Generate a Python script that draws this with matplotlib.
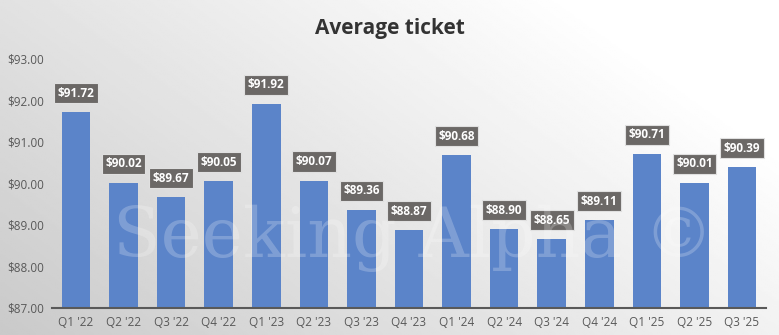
import numpy as np
import matplotlib.pyplot as plt

quarters = ["Q1 '22", "Q2 '22", "Q3 '22", "Q4 '22", "Q1 '23", "Q2 '23", "Q3 '23", "Q4 '23",
            "Q1 '24", "Q2 '24", "Q3 '24", "Q4 '24", "Q1 '25", "Q2 '25", "Q3 '25"]
avg_ticket = [91.72, 90.02, 89.67, 90.05, 91.92, 90.07, 89.36, 88.87,
              90.68, 88.90, 88.65, 89.11, 90.71, 90.01, 90.39]
yticks = [87, 88, 89, 90, 91, 92, 93]

plt.rcParams['font.family'] = ['Open Sans', 'DejaVu Sans']

fig = plt.figure(figsize=(7.79, 3.35), dpi=100)

# gradient background, darker grey bottom-left to white top-right
bg = fig.add_axes([0, 0, 1, 1], zorder=0)
gx, gy = np.meshgrid(np.linspace(0, 1, 400), np.linspace(0, 1, 200))
grad = 0.79 + 0.21 * np.clip(0.75 * gx + 0.45 * gy, 0, 1)
bg.imshow(grad, cmap='gray', vmin=0, vmax=1, origin='lower', aspect='auto', extent=[0, 1, 0, 1])
bg.axis('off')

ax = fig.add_axes([0.067, 0.081, 0.916, 0.743], zorder=1)
ax.patch.set_alpha(0)
x = np.arange(len(quarters))
ax.bar(x, avg_ticket, width=0.6, color='#5b84c9', zorder=2)
ax.set_xlim(-0.5, len(quarters) - 0.5)
ax.set_ylim(87, 93)
ax.set_yticks(yticks)
ax.set_yticklabels([f"${v:.2f}" for v in yticks], color='#595959', fontsize=8.5)
ax.set_xticks(x)
ax.set_xticklabels(quarters, color='#595959', fontsize=8.5)
ax.tick_params(length=0, pad=6)
for s in ['top', 'right', 'left']:
    ax.spines[s].set_visible(False)
ax.spines['bottom'].set_color('#595959')
ax.spines['bottom'].set_linewidth(1.5)

for xi, v in zip(x, avg_ticket):
    ax.annotate(f"${v:.2f}", (xi, v), xytext=(0, 9), textcoords='offset points',
                ha='center', va='bottom', color='white', fontsize=8.5, fontweight='bold',
                bbox=dict(boxstyle='square,pad=0.3', fc='#6b6866', ec='#e0e0e0', lw=0.8), zorder=4)

# watermark
fig.text(0.53, 0.29, "Seeking Alpha \u00a9", fontsize=50, color='white', alpha=0.22,
         family='DejaVu Serif', ha='center', va='center', zorder=3)

fig.text(0.5, 0.915, "Average ticket", ha='center', va='center', fontsize=15,
         fontweight='bold', color='#333333')

fig.savefig("out.png", dpi=100)
